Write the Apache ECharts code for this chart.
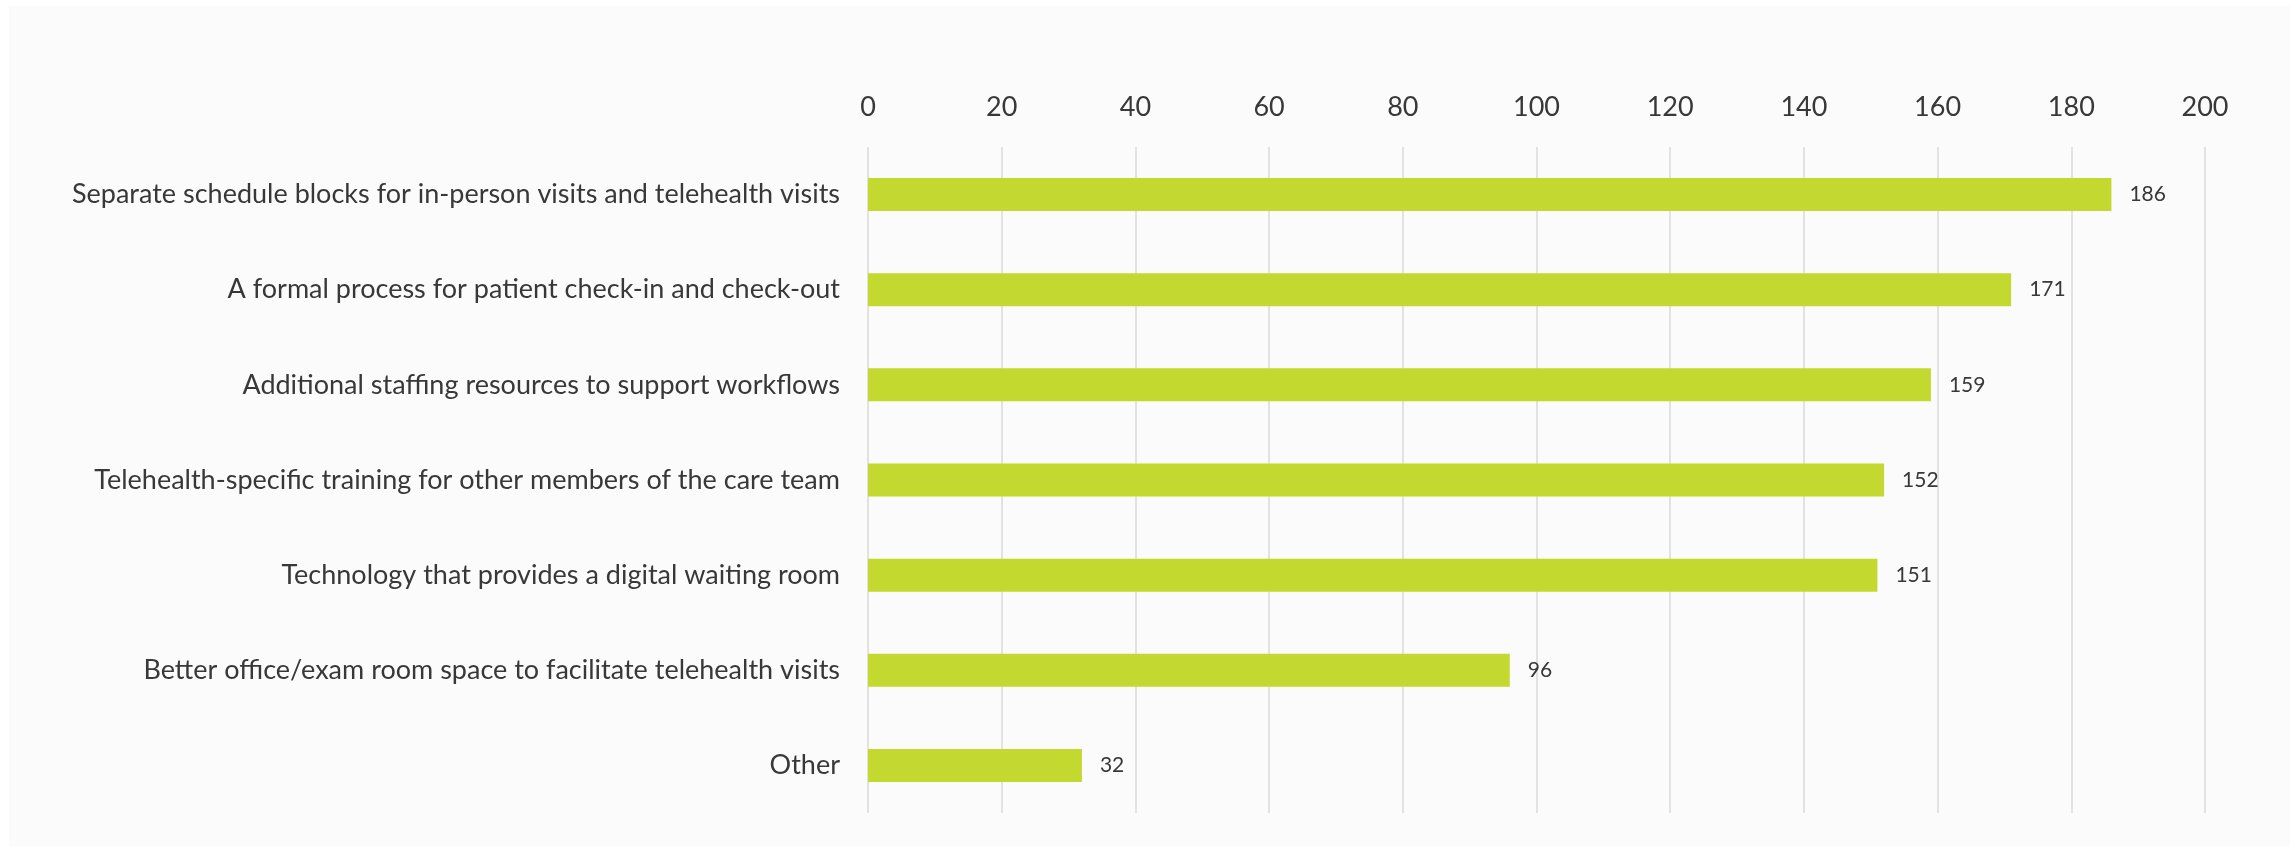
<!DOCTYPE html>
<html>
<head>
<meta charset="utf-8">
<script src="https://cdn.jsdelivr.net/npm/echarts@6/dist/echarts.min.js"></script>
<style>
  html, body { margin: 0; padding: 0; background: #ffffff; }
  #frame { position: absolute; left: 9px; top: 6px; width: 2281px; height: 840px; background: #fbfbfb; }
  #chart { position: absolute; left: 0; top: 0; width: 2290px; height: 848px; }
</style>
</head>
<body>
<div id="frame"></div>
<div id="chart"></div>
<script>
// Survey responses: workflow changes that would improve telehealth visits
const categories = [
  'Separate schedule blocks for in-person visits and telehealth visits',
  'A formal process for patient check-in and check-out',
  'Additional staffing resources to support workflows',
  'Telehealth-specific training for other members of the care team',
  'Technology that provides a digital waiting room',
  'Better office/exam room space to facilitate telehealth visits',
  'Other'
];
const responses = [186, 171, 159, 152, 151, 96, 32];
const axisMin = 0;
const axisMax = 200;
const axisStep = 20;

const chart = echarts.init(document.getElementById('chart'), null, { renderer: 'canvas' });
const textFont = 'Lato, "Open Sans", sans-serif';

chart.setOption({
  backgroundColor: 'transparent',
  animation: false,
  grid: { left: 868, right: 85, top: 147, bottom: 35, containLabel: false },
  xAxis: {
    type: 'value',
    position: 'top',
    min: axisMin,
    max: axisMax,
    interval: axisStep,
    axisLine: { show: false },
    axisTick: { show: false },
    axisLabel: { color: '#383838', fontFamily: textFont, fontSize: 27, margin: 26 },
    splitLine: { show: true, lineStyle: { color: '#e2e2e2', width: 2 } }
  },
  yAxis: {
    type: 'category',
    data: categories,
    inverse: true,
    axisLine: { show: false },
    axisTick: { show: false },
    axisLabel: { color: '#383838', fontFamily: textFont, fontSize: 27, margin: 28 }
  },
  series: [{
    type: 'bar',
    data: responses,
    barWidth: 33,
    itemStyle: { color: '#c3d92f' },
    label: {
      show: true,
      position: 'right',
      distance: 18,
      color: '#383838',
      fontFamily: textFont,
      fontSize: 21
    }
  }]
});
</script>
</body>
</html>
